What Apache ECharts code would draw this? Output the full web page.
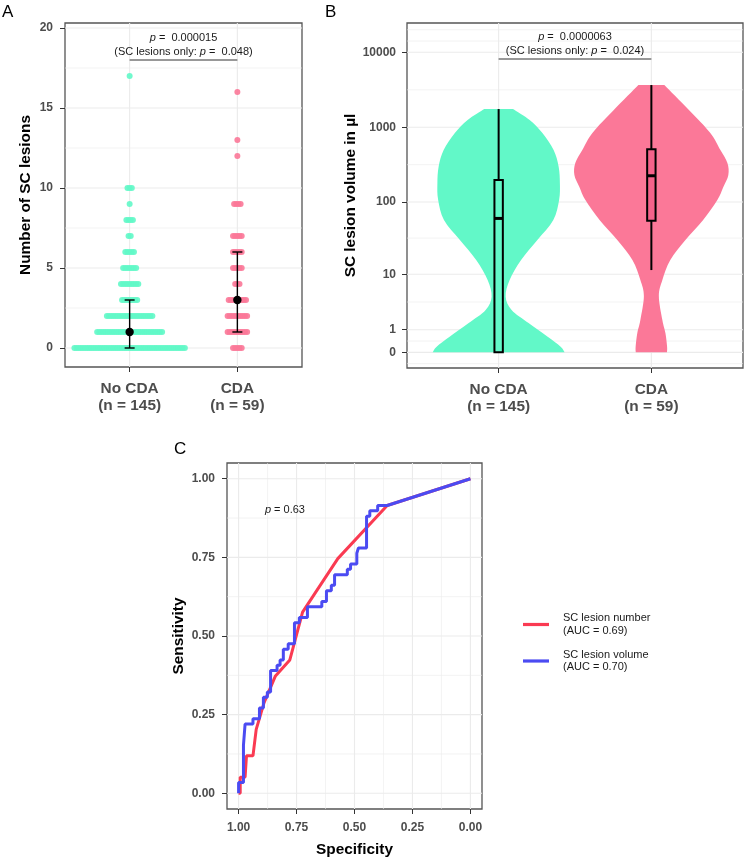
<!DOCTYPE html>
<html><head><meta charset="utf-8">
<script src="https://cdn.jsdelivr.net/npm/echarts@6/dist/echarts.min.js"></script>
<style>html,body{margin:0;padding:0;background:#fff}#c{width:745px;height:863px}</style>
</head><body><div id="c"></div>
<script>
// ---------------- data ----------------
const groups = ['No CDA\n(n = 145)', 'CDA\n(n = 59)'];
const groupPos = [1, 2];

// Panel A: number of SC lesions per patient (value -> number of patients)
const lesionValuesNoCDA = [0, 1, 2, 3, 4, 5, 6, 7, 8, 9, 10, 17];
const lesionCountsNoCDA = [52, 31, 22, 8, 9, 7, 5, 2, 4, 1, 3, 1];
const lesionValuesCDA = [0, 1, 2, 3, 4, 5, 6, 7, 9, 12, 13, 16];
const lesionCountsCDA = [5, 10, 10, 9, 3, 5, 5, 5, 4, 1, 1, 1];
const medianA = [1, 3];
const q1A = [0, 1];
const q3A = [3, 6];
const yTicksA = [0, 5, 10, 15, 20];
const yMinorA = [2.5, 7.5, 12.5, 17.5];

// Panel B: SC lesion volume (µl), axis is log10(volume + 1)
const volTicks = [0, 1, 10, 100, 1000, 10000];
const yMinorB = [-0.1505, 0.1505, 0.671, 1.523, 2.502, 3.500, 4.1505, 4.301];
// violin outline: level = log10(µl + 1), half width in x units
const violinLevelNoCDA = [0, 0.075, 0.208, 0.39, 0.564, 0.74, 0.964, 1.23, 1.50, 1.764, 2.03, 2.253, 2.475, 2.697, 2.92, 3.097, 3.244];
const violinHalfNoCDA = [0.432, 0.406, 0.321, 0.196, 0.085, 0.046, 0.072, 0.147, 0.255, 0.358, 0.396, 0.401, 0.393, 0.360, 0.288, 0.203, 0.094];
const violinLevelCDA = [0, 0.075, 0.257, 0.431, 0.75, 0.964, 1.231, 1.497, 1.764, 2.03, 2.208, 2.364, 2.524, 2.697, 2.924, 3.23, 3.564];
const violinHalfCDA = [0.102, 0.103, 0.092, 0.072, 0.049, 0.072, 0.124, 0.223, 0.339, 0.432, 0.472, 0.504, 0.498, 0.452, 0.386, 0.246, 0.085];
// boxplot stats in µl: lower whisker, Q1, median, Q3, upper whisker
const boxNoCDA = [0, 0, 60, 197, 1750];
const boxCDA = [11.5, 56, 225, 508, 3660];

// Panel C: ROC curves [specificity, sensitivity]
const rocNumber = [[0, 1], [0.359, 0.915], [0.572, 0.746], [0.724, 0.576], [0.779, 0.424], [0.841, 0.373],
  [0.890, 0.288], [0.924, 0.203], [0.938, 0.119], [0.966, 0.119], [0.972, 0.051], [0.993, 0.051],
  [0.993, 0.034], [0.993, 0.017], [0.993, 0], [1, 0]];
const rocVolume = [[1, 0], [1, 0.034], [0.979, 0.034], [0.979, 0.153], [0.972, 0.153], [0.972, 0.220],
  [0.938, 0.220], [0.938, 0.237], [0.910, 0.237], [0.910, 0.271], [0.893, 0.271], [0.893, 0.305],
  [0.876, 0.305], [0.876, 0.322], [0.862, 0.322], [0.862, 0.390], [0.834, 0.390], [0.834, 0.407],
  [0.821, 0.407], [0.821, 0.424], [0.807, 0.424], [0.807, 0.458], [0.786, 0.458], [0.786, 0.475],
  [0.759, 0.475], [0.759, 0.542], [0.738, 0.542], [0.738, 0.559], [0.703, 0.559], [0.703, 0.593],
  [0.641, 0.593], [0.641, 0.610], [0.621, 0.610], [0.621, 0.644], [0.600, 0.644], [0.600, 0.661],
  [0.586, 0.661], [0.586, 0.695], [0.531, 0.695], [0.531, 0.712], [0.517, 0.712], [0.517, 0.729],
  [0.490, 0.729], [0.490, 0.763], [0.483, 0.763], [0.483, 0.780], [0.448, 0.780], [0.448, 0.881],
  [0.434, 0.881], [0.434, 0.898], [0.400, 0.898], [0.400, 0.915], [0.359, 0.915], [0, 1]];
const rocNames = ['SC lesion number\n(AUC = 0.69)', 'SC lesion volume\n(AUC = 0.70)'];
const rocTicks = [0, 0.25, 0.5, 0.75, 1];
const rocMinor = [0.125, 0.375, 0.625, 0.875];

// ---------------- styling ----------------
const FONT = '"Liberation Sans", Arial, Helvetica, sans-serif';
const GREEN = '#62F8C8', PINK = '#FB7898', PINK_BOX = '#F4628A';
const RED = '#FA3A52', BLUE = '#4B4BF2';
const TICK_COL = '#4d4d4d';
const lg = v => Math.log10(v + 1);

function swarm(pos, values, counts) {
  const step = 0.0201, pts = [];
  values.forEach((v, i) => {
    const n = counts[i];
    for (let k = 0; k < n; k++) pts.push([pos + (k - (n - 1) / 2) * step, v]);
  });
  return pts;
}

// Catmull-Rom outline through pixel points (rendering only)
function crSegs(pts) {
  let d = '';
  for (let i = 0; i < pts.length - 1; i++) {
    const p0 = pts[Math.max(i - 1, 0)], p1 = pts[i], p2 = pts[i + 1], p3 = pts[Math.min(i + 2, pts.length - 1)];
    const c1 = [p1[0] + (p2[0] - p0[0]) / 6, p1[1] + (p2[1] - p0[1]) / 6];
    const c2 = [p2[0] - (p3[0] - p1[0]) / 6, p2[1] - (p3[1] - p1[1]) / 6];
    d += ' C' + c1[0] + ',' + c1[1] + ' ' + c2[0] + ',' + c2[1] + ' ' + p2[0] + ',' + p2[1];
  }
  return d;
}

function gridSeries(idx, xRef, yRef, hMajor, hMinor, vMajor, vMinor) {
  const data = [];
  hMajor.forEach(v => data.push([0, v, 0]));
  hMinor.forEach(v => data.push([0, v, 1]));
  vMajor.forEach(v => data.push([1, v, 0]));
  vMinor.forEach(v => data.push([1, v, 1]));
  return {
    type: 'custom', xAxisIndex: idx, yAxisIndex: idx, silent: true, z: 1, data,
    renderItem(params, api) {
      const cs = params.coordSys;
      const o = api.value(0), v = api.value(1), m = api.value(2);
      let shape;
      if (o === 0) { const y = api.coord([xRef, v])[1]; shape = { x1: cs.x, y1: y, x2: cs.x + cs.width, y2: y }; }
      else { const x = api.coord([v, yRef])[0]; shape = { x1: x, y1: cs.y, x2: x, y2: cs.y + cs.height }; }
      return { type: 'line', shape, style: { stroke: '#EBEBEB', lineWidth: m ? 0.6 : 1.1 } };
    }
  };
}

const RICH = { i: { fontStyle: 'italic', fontSize: 11, fontFamily: FONT, fill: '#1a1a1a' },
               n: { fontSize: 11, fontFamily: FONT, fill: '#1a1a1a' } };

function bracketSeries(idx, yVal, line1, line2) {
  return {
    type: 'custom', xAxisIndex: idx, yAxisIndex: idx, silent: true, z: 6,
    data: [[groupPos[0], groupPos[1], yVal]],
    renderItem(params, api) {
      const a = api.coord([api.value(0), api.value(2)]), b = api.coord([api.value(1), api.value(2)]);
      const mx = (a[0] + b[0]) / 2;
      return { type: 'group', children: [
        { type: 'line', shape: { x1: a[0], y1: a[1], x2: b[0], y2: b[1] }, style: { stroke: '#333', lineWidth: 1 } },
        { type: 'text', x: mx, y: a[1] - 22.5, style: { text: '{i|p}{n|' + line1 + '}', rich: RICH, align: 'center', verticalAlign: 'middle' } },
        { type: 'text', x: mx, y: a[1] - 8.5, style: { text: '{n|(SC lesions only: }{i|p}{n|' + line2 + ')}', rich: RICH, align: 'center', verticalAlign: 'middle' } }
      ]};
    }
  };
}

const tickLabel = { fontFamily: FONT, fontWeight: 'bold', fontSize: 12, color: TICK_COL };
const catLabel = { fontFamily: FONT, fontWeight: 'bold', fontSize: 15.4, color: TICK_COL, lineHeight: 16.5 };
const nameStyle = { fontFamily: FONT, fontWeight: 'bold', fontSize: 15.4, color: '#000' };
const tickStyle = { show: true, length: 5, lineStyle: { color: '#333', width: 1 } };

function catXAxis(gi) {
  return {
    gridIndex: gi, type: 'value', min: 0.4, max: 2.6,
    axisLine: { show: false, onZero: false }, splitLine: { show: false },
    axisTick: Object.assign({ customValues: groupPos }, tickStyle),
    axisLabel: Object.assign({ customValues: groupPos, margin: 13.5, formatter: v => groups[Math.round(v) - 1] }, catLabel)
  };
}

const volTickPos = volTicks.map(lg);

const option = {
  animation: false,
  backgroundColor: '#fff',
  grid: [
    { left: 65, top: 23, width: 237, height: 344, show: true, borderColor: '#555', borderWidth: 1.3, backgroundColor: 'transparent' },
    { left: 407, top: 23, width: 336, height: 345, show: true, borderColor: '#555', borderWidth: 1.3, backgroundColor: 'transparent' },
    { left: 227, top: 463, width: 255, height: 346, show: true, borderColor: '#555', borderWidth: 1.3, backgroundColor: 'transparent' }
  ],
  xAxis: [
    catXAxis(0),
    catXAxis(1),
    {
      gridIndex: 2, type: 'value', min: -0.05, max: 1.05, inverse: true,
      axisLine: { show: false, onZero: false }, splitLine: { show: false },
      axisTick: Object.assign({ customValues: rocTicks }, tickStyle),
      axisLabel: Object.assign({ customValues: rocTicks, margin: 13, formatter: v => v.toFixed(2) }, tickLabel),
      name: 'Specificity', nameLocation: 'middle', nameGap: 33, nameTextStyle: nameStyle
    }
  ],
  yAxis: [
    {
      gridIndex: 0, type: 'value', min: -1.1875, max: 20.3125,
      axisLine: { show: false, onZero: false }, splitLine: { show: false },
      axisTick: Object.assign({ customValues: yTicksA }, tickStyle),
      axisLabel: Object.assign({ customValues: yTicksA, margin: 12 }, tickLabel),
      name: 'Number of SC lesions', nameLocation: 'middle', nameGap: 32, nameTextStyle: nameStyle
    },
    {
      gridIndex: 1, type: 'value', min: -0.209, max: 4.391,
      axisLine: { show: false, onZero: false }, splitLine: { show: false },
      axisTick: Object.assign({ customValues: volTickPos }, tickStyle),
      axisLabel: Object.assign({ customValues: volTickPos, margin: 11,
        formatter: v => { let b = 0; volTickPos.forEach((t, i) => { if (Math.abs(t - v) < Math.abs(volTickPos[b] - v)) b = i; }); return String(volTicks[b]); } }, tickLabel),
      name: 'SC lesion volume in µl', nameLocation: 'middle', nameGap: 49, nameTextStyle: nameStyle
    },
    {
      gridIndex: 2, type: 'value', min: -0.05, max: 1.05,
      axisLine: { show: false, onZero: false }, splitLine: { show: false },
      axisTick: Object.assign({ customValues: rocTicks }, tickStyle),
      axisLabel: Object.assign({ customValues: rocTicks, margin: 12, formatter: v => v.toFixed(2) }, tickLabel),
      name: 'Sensitivity', nameLocation: 'middle', nameGap: 41, nameTextStyle: nameStyle
    }
  ],
  legend: {
    data: rocNames, orient: 'vertical', left: 518, top: 607, icon: 'rect',
    itemWidth: 26, itemHeight: 3.2, itemGap: 11.5, selectedMode: false,
    textStyle: { fontFamily: FONT, fontSize: 11, color: '#1a1a1a', lineHeight: 12.5, padding: [0, 0, 0, 9] }
  },
  graphic: [
    { type: 'text', left: 2, top: 4, style: { text: 'A', fontFamily: FONT, fontSize: 17, fill: '#000' } },
    { type: 'text', left: 325, top: 4, style: { text: 'B', fontFamily: FONT, fontSize: 17, fill: '#000' } },
    { type: 'text', left: 174, top: 441, style: { text: 'C', fontFamily: FONT, fontSize: 17, fill: '#000' } }
  ],
  series: [
    gridSeries(0, 1.5, 10, yTicksA, yMinorA, groupPos, []),
    gridSeries(1, 1.5, 2, volTickPos, yMinorB, groupPos, []),
    gridSeries(2, 0.5, 0.5, rocTicks, rocMinor, rocTicks, rocMinor),
    { type: 'scatter', xAxisIndex: 0, yAxisIndex: 0, silent: true, z: 3, symbolSize: 6,
      data: swarm(groupPos[0], lesionValuesNoCDA, lesionCountsNoCDA), itemStyle: { color: GREEN, opacity: 0.9 } },
    { type: 'scatter', xAxisIndex: 0, yAxisIndex: 0, silent: true, z: 3, symbolSize: 6,
      data: swarm(groupPos[1], lesionValuesCDA, lesionCountsCDA), itemStyle: { color: PINK, opacity: 0.9 } },
    { type: 'custom', xAxisIndex: 0, yAxisIndex: 0, silent: true, z: 5,
      data: groupPos.map((p, i) => [p, q1A[i], medianA[i], q3A[i]]),
      renderItem(params, api) {
        const x = api.value(0);
        const a = api.coord([x, api.value(1)]), m = api.coord([x, api.value(2)]), b = api.coord([x, api.value(3)]);
        const cw = 5, st = { stroke: '#000', lineWidth: 1.4 };
        return { type: 'group', children: [
          { type: 'line', shape: { x1: a[0], y1: a[1], x2: b[0], y2: b[1] }, style: st },
          { type: 'line', shape: { x1: a[0] - cw, y1: a[1], x2: a[0] + cw, y2: a[1] }, style: st },
          { type: 'line', shape: { x1: b[0] - cw, y1: b[1], x2: b[0] + cw, y2: b[1] }, style: st },
          { type: 'circle', shape: { cx: m[0], cy: m[1], r: 4.2 }, style: { fill: '#000' } }
        ]};
      } },
    bracketSeries(0, 18, ' =  0.000015', ' =  0.048'),
    { type: 'custom', xAxisIndex: 1, yAxisIndex: 1, silent: true, z: 3,
      data: [[groupPos[0], 0], [groupPos[1], 1]],
      renderItem(params, api) {
        const pos = api.value(0), gi = api.value(1);
        const lv = gi ? violinLevelCDA : violinLevelNoCDA, hw = gi ? violinHalfCDA : violinHalfNoCDA;
        const right = [], left = [];
        for (let i = 0; i < lv.length; i++) right.push(api.coord([pos + hw[i], lv[i]]));
        for (let i = lv.length - 1; i >= 0; i--) left.push(api.coord([pos - hw[i], lv[i]]));
        const d = 'M' + right[0][0] + ',' + right[0][1] + crSegs(right) +
          ' L' + left[0][0] + ',' + left[0][1] + crSegs(left) + ' Z';
        return { type: 'path', shape: { pathData: d }, style: { fill: gi ? PINK : GREEN } };
      } },
    { type: 'custom', xAxisIndex: 1, yAxisIndex: 1, silent: true, z: 4,
      data: [[groupPos[0]].concat(boxNoCDA.map(lg)), [groupPos[1]].concat(boxCDA.map(lg))],
      renderItem(params, api) {
        const x = api.value(0);
        const c = k => api.coord([x, api.value(k)]);
        const lo = c(1), q1 = c(2), md = c(3), q3 = c(4), hi = c(5);
        const hw = 4.2;
        const fill = params.dataIndex ? PINK_BOX : GREEN;
        return { type: 'group', children: [
          { type: 'line', shape: { x1: lo[0], y1: lo[1], x2: hi[0], y2: hi[1] }, style: { stroke: '#000', lineWidth: 2 } },
          { type: 'rect', shape: { x: q1[0] - hw, y: q3[1], width: 2 * hw, height: q1[1] - q3[1] }, style: { fill, stroke: '#000', lineWidth: 2 } },
          { type: 'line', shape: { x1: md[0] - hw, y1: md[1], x2: md[0] + hw, y2: md[1] }, style: { stroke: '#000', lineWidth: 3 } }
        ]};
      } },
    bracketSeries(1, 3.911, ' =  0.0000063', ' =  0.024'),
    { type: 'line', name: rocNames[0], xAxisIndex: 2, yAxisIndex: 2, data: rocNumber, symbol: 'none', showSymbol: false,
      silent: true, z: 4, lineStyle: { width: 3, color: RED }, itemStyle: { color: RED } },
    { type: 'line', name: rocNames[1], xAxisIndex: 2, yAxisIndex: 2, data: rocVolume, symbol: 'none', showSymbol: false,
      silent: true, z: 5, lineStyle: { width: 3, color: BLUE }, itemStyle: { color: BLUE } },
    { type: 'custom', xAxisIndex: 2, yAxisIndex: 2, silent: true, z: 6, data: [[0.8, 0.9]],
      renderItem(params, api) {
        const p = api.coord([api.value(0), api.value(1)]);
        return { type: 'text', x: p[0], y: p[1], style: { text: '{i|p}{n| = 0.63}', rich: RICH, align: 'center', verticalAlign: 'middle' } };
      } }
  ]
};

const chart = echarts.init(document.getElementById('c'));
chart.setOption(option);
</script>
</body></html>
